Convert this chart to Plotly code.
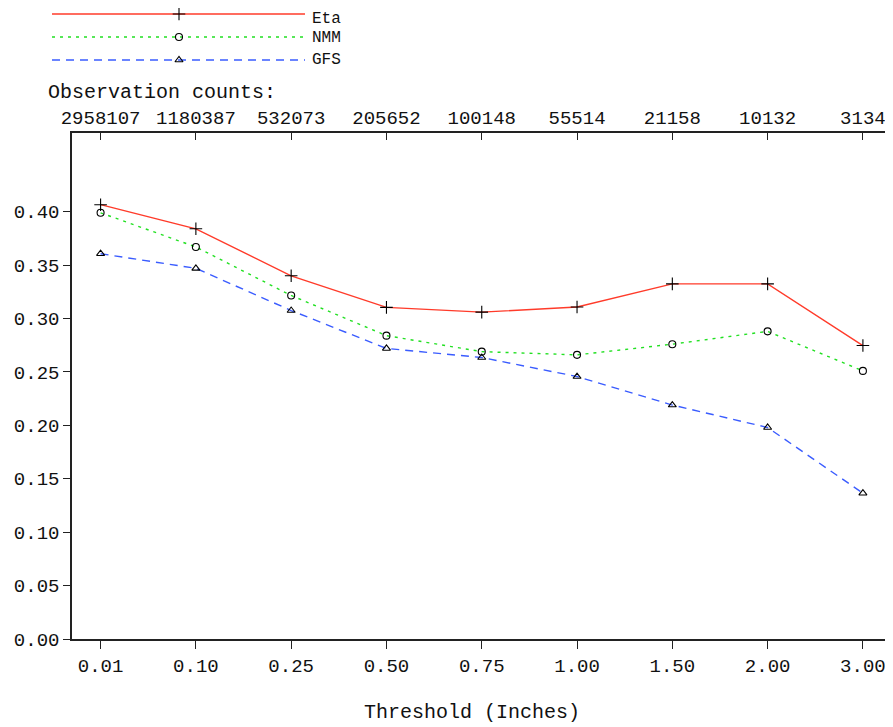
import plotly.graph_objects as go

thresholds = ["0.01", "0.10", "0.25", "0.50", "0.75", "1.00", "1.50", "2.00", "3.00"]
obs_counts = ["2958107", "1180387", "532073", "205652", "100148", "55514", "21158", "10132", "3134"]
eta = [0.4066, 0.3840, 0.3400, 0.3105, 0.3060, 0.3108, 0.3325, 0.3325, 0.2747]
nmm = [0.3990, 0.3670, 0.3216, 0.2840, 0.2690, 0.2660, 0.2760, 0.2880, 0.2510]
gfs = [0.3607, 0.3470, 0.3075, 0.2720, 0.2635, 0.2457, 0.2190, 0.1980, 0.1365]
y_ticks = [0.0, 0.05, 0.10, 0.15, 0.20, 0.25, 0.30, 0.35, 0.40]
series_names = ["Eta", "NMM", "GFS"]

FONT = "Liberation Mono, Courier New, monospace"
TXT = "#111111"
SW, SH = 893, 727          # browser window
OFF = 8                    # default body margin of the page
W, H = SW - OFF, SH - OFF  # figure size so it fits the window


def fx(px):
    return (px - OFF) / W


def fy(py):
    return 1 - (py - OFF) / H


colors = ["#ff3b2a", "#22e022", "#3a5cff"]
dashes = ["solid", "3px,5px", "8px,6px"]
symbols = ["cross-thin-open", "circle-open", "triangle-up-open"]
msizes = [9, 7, 7]

fig = go.Figure()
for name, vals, c, d, s, ms in zip(series_names, [eta, nmm, gfs], colors, dashes, symbols, msizes):
    fig.add_trace(go.Scatter(
        x=thresholds, y=vals, mode="lines+markers", name=name,
        line=dict(color=c, width=1.4, dash=d),
        marker=dict(symbol=s, size=ms, color="black", line=dict(color="black", width=1.1)),
        showlegend=False, xaxis="x", yaxis="y"))

# invisible trace to activate top axis
fig.add_trace(go.Scatter(x=thresholds, y=eta, mode="markers", marker=dict(opacity=0),
                         showlegend=False, hoverinfo="skip", xaxis="x2", yaxis="y"))

# custom legend drawn in a screen-pixel overlay axis
leg_y = [14, 37, 60]
leg_text_y = [8.5, 38, 60]
leg_text_anchor = ["top", "middle", "middle"]
for name, c, d, s, ms, ly, ty, ya in zip(series_names, colors, dashes, symbols, msizes,
                                          leg_y, leg_text_y, leg_text_anchor):
    fig.add_trace(go.Scatter(x=[52, 305], y=[ly, ly], mode="lines",
                             line=dict(color=c, width=1.4, dash=d),
                             showlegend=False, hoverinfo="skip", xaxis="x3", yaxis="y3"))
    fig.add_trace(go.Scatter(x=[179], y=[ly], mode="markers",
                             marker=dict(symbol=s, size=ms, color="black", line=dict(color="black", width=1.1)),
                             showlegend=False, hoverinfo="skip", xaxis="x3", yaxis="y3"))
    fig.add_annotation(x=311, y=ty, xref="x3", yref="y3", text=name, showarrow=False,
                       xanchor="left", yanchor=ya, borderpad=0,
                       font=dict(family=FONT, size=16, color=TXT))

x_dom = [fx(72), fx(891.5)]
y_dom = [fy(639), fy(133)]
xr = [-0.3, 8.3]

fig.update_layout(
    width=W, height=H,
    margin=dict(l=0, r=0, t=0, b=0, autoexpand=False),
    paper_bgcolor="white", plot_bgcolor="rgba(0,0,0,0)",
    font=dict(family=FONT, size=19, color=TXT),
    xaxis=dict(domain=x_dom, type="category", categoryarray=thresholds, range=xr,
               showline=True, linecolor="#222", linewidth=1.5, showgrid=False, zeroline=False,
               ticks="outside", ticklen=8, tickwidth=1, tickcolor="#222", automargin=False,
               tickfont=dict(family=FONT, size=19, color=TXT), anchor="y"),
    xaxis2=dict(domain=x_dom, type="category", categoryarray=thresholds, range=xr,
                overlaying="x", side="top", anchor="y", automargin=False,
                tickmode="array", tickvals=thresholds, ticktext=obs_counts,
                showline=True, linecolor="#222", linewidth=1.5, showgrid=False, zeroline=False,
                ticks="inside", ticklen=7, tickwidth=1, tickcolor="#222",
                tickfont=dict(family=FONT, size=19, color=TXT)),
    yaxis=dict(domain=y_dom, range=[0, 0.4737], tickmode="array", tickvals=y_ticks,
               tickformat=".2f", automargin=False,
               showline=True, mirror=True, linecolor="#222", linewidth=1.5,
               showgrid=False, zeroline=False,
               ticks="outside", ticklen=7, tickwidth=1, tickcolor="#222",
               tickfont=dict(family=FONT, size=19, color=TXT), anchor="x"),
    xaxis3=dict(domain=[0, 1], range=[OFF, SW], visible=False, anchor="y3",
                fixedrange=True, automargin=False),
    yaxis3=dict(domain=[0, 1], range=[SH, OFF], visible=False, anchor="x3",
                fixedrange=True, automargin=False),
)

fig.add_annotation(x=46, y=92, xref="x3", yref="y3", text="Observation counts:", showarrow=False,
                   xanchor="left", yanchor="middle", font=dict(family=FONT, size=20, color=TXT))
fig.add_annotation(x=472, y=712, xref="x3", yref="y3", text="Threshold (Inches)", showarrow=False,
                   xanchor="center", yanchor="middle", font=dict(family=FONT, size=20, color=TXT))

fig.write_html("out.html", config={"displayModeBar": False})
